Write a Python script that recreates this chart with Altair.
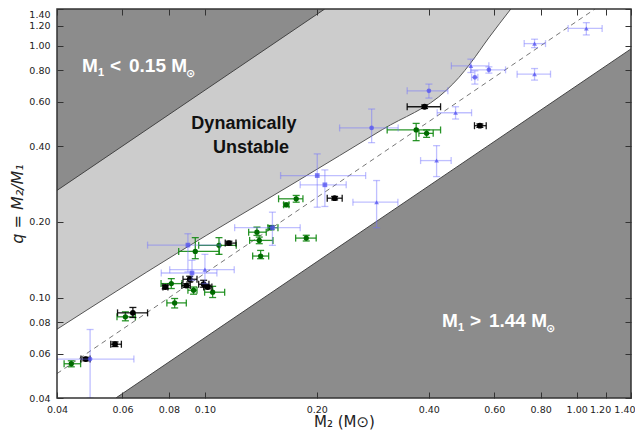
import altair as alt
import pandas as pd

# ----------------- values -----------------
tick_values = [0.04, 0.06, 0.08, 0.10, 0.20, 0.40, 0.60, 0.80, 1.00, 1.20, 1.40]

# boundary of the dynamically unstable region (light grey)
unstable_m2 = [0.04, 0.084, 0.177, 0.30, 0.4475, 0.482, 0.519, 0.58, 0.665]
unstable_q = [0.075, 0.15, 0.29, 0.465, 0.669, 0.748, 0.856, 1.075, 1.4]

# M1 < 0.15 Msun boundary (q = M2/0.15)
low_m1_m2 = [0.04, 0.21]
low_m1_q = [0.2667, 1.4]
# M1 > 1.44 Msun boundary (q = M2/1.44)
high_m1_m2 = [0.0576, 1.4]
high_m1_q = [0.04, 0.9722]
# dashed reference line (q = M2/0.8)
ref_m2 = [0.04, 1.12]
ref_q = [0.05, 1.4]

# black series
black_m2 = [0.0478, 0.0573, 0.0640, 0.0782, 0.0891, 0.0910, 0.0992, 0.1017, 0.1160, 0.2233, 0.3898, 0.549]
black_q = [0.0571, 0.0654, 0.0871, 0.1103, 0.1118, 0.1184, 0.1131, 0.1103, 0.1648, 0.2484, 0.5730, 0.4819]
black_m2_lo = [0.0464, 0.0558, 0.0582, 0.0771, 0.0867, 0.0873, 0.0962, 0.0992, 0.1134, 0.2133, 0.350, 0.531]
black_m2_hi = [0.0491, 0.0596, 0.0701, 0.0795, 0.0913, 0.0952, 0.1025, 0.1044, 0.1212, 0.2340, 0.4304, 0.571]
black_q_lo = [0.0562, 0.0640, 0.0835, 0.1085, 0.1100, 0.1155, 0.1101, 0.1085, 0.1620, 0.2445, 0.5640, 0.4745]
black_q_hi = [0.0580, 0.0668, 0.0915, 0.1121, 0.1136, 0.1217, 0.1173, 0.1121, 0.1676, 0.2524, 0.5820, 0.4895]

# green series
green_m2 = [0.0437, 0.0611, 0.0829, 0.0812, 0.0932, 0.1049, 0.0942, 0.1091, 0.1380, 0.1400, 0.1412, 0.1505, 0.1655, 0.1760, 0.1873, 0.3700, 0.3947]
green_q = [0.0547, 0.0840, 0.0954, 0.1138, 0.1071, 0.1052, 0.1527, 0.1614, 0.1821, 0.1689, 0.1464, 0.1897, 0.2339, 0.2470, 0.1725, 0.4634, 0.4493]
green_m2_lo = [0.0418, 0.0580, 0.0790, 0.0762, 0.0900, 0.0998, 0.0850, 0.0962, 0.1311, 0.1319, 0.1344, 0.1477, 0.1628, 0.1578, 0.1754, 0.3092, 0.3763]
green_m2_hi = [0.0463, 0.0650, 0.0891, 0.0867, 0.0952, 0.1130, 0.1093, 0.1214, 0.1462, 0.1524, 0.1484, 0.1572, 0.1683, 0.1835, 0.1992, 0.4304, 0.4112]
green_q_lo = [0.0532, 0.0810, 0.0911, 0.1088, 0.1033, 0.1002, 0.1429, 0.1487, 0.1768, 0.1639, 0.1429, 0.1860, 0.2300, 0.2395, 0.1680, 0.4203, 0.4332]
green_q_hi = [0.0562, 0.0879, 0.0993, 0.1191, 0.1103, 0.1110, 0.1732, 0.1732, 0.1907, 0.1741, 0.1541, 0.1935, 0.2378, 0.2547, 0.1770, 0.4921, 0.4634]

# blue series
blue_m2 = [0.0491, 0.0900, 0.0923, 0.1000, 0.1519, 0.2005, 0.2102, 0.2896, 0.2808, 0.4199, 0.4004, 0.4723, 0.5192, 0.5322, 0.5805, 0.7703, 0.7703, 1.0617]
blue_q = [0.0571, 0.1618, 0.1254, 0.1293, 0.1897, 0.3055, 0.2807, 0.2395, 0.4720, 0.3503, 0.6630, 0.5425, 0.8327, 0.7498, 0.8029, 1.0203, 0.7720, 1.1720]
blue_m2_lo = [0.0400, 0.0701, 0.0763, 0.0804, 0.1202, 0.1598, 0.1804, 0.2501, 0.2303, 0.3803, 0.3500, 0.4214, 0.4602, 0.5215, 0.5192, 0.7225, 0.6915, 0.9485]
blue_m2_hi = [0.0644, 0.1100, 0.1077, 0.1199, 0.1804, 0.2706, 0.2399, 0.3304, 0.3310, 0.4596, 0.4503, 0.5215, 0.5805, 0.5422, 0.6437, 0.8245, 0.8504, 1.1708]
blue_q_lo = [0.0400, 0.1266, 0.1173, 0.1138, 0.1614, 0.2288, 0.2303, 0.1897, 0.4127, 0.3027, 0.6202, 0.5122, 0.7833, 0.7048, 0.7791, 0.9838, 0.7310, 1.1046]
blue_q_hi = [0.0748, 0.1795, 0.1408, 0.1487, 0.2186, 0.3724, 0.3217, 0.2919, 0.5611, 0.4015, 0.7048, 0.5730, 0.8851, 0.7956, 0.8252, 1.0622, 0.8124, 1.2357]
blue_marker = ['circle', 'square', 'square', 'triangle-up', 'square', 'square', 'square', 'triangle-up', 'circle',
               'triangle-up', 'circle', 'triangle-up', 'triangle-up', 'circle', 'circle', 'triangle-up', 'triangle-up', 'triangle-up']

# ----------------- chart -----------------
xs = alt.Scale(type='log', domain=[0.04, 1.4], nice=False)
ys = alt.Scale(type='log', domain=[0.04, 1.4], nice=False)
one = pd.DataFrame({'k': [0]})


def X(field, axis=None, title=None):
    if title is None:
        return alt.X(field, type='quantitative', scale=xs, axis=axis)
    return alt.X(field, type='quantitative', scale=xs, axis=axis, title=title)


def Y(field, axis=None, title=None):
    if title is None:
        return alt.Y(field, type='quantitative', scale=ys, axis=axis)
    return alt.Y(field, type='quantitative', scale=ys, axis=axis, title=title)


main_x_axis = alt.Axis(values=tick_values, format='.2f', ticks=False, tickSize=0, domain=False, grid=False,
                       labelFont='DejaVu Sans', labelFontSize=9.5, labelColor='#222', labelPadding=6,
                       labelOverlap=False,
                       labelAlign={"expr": "datum.value > 1.3 ? 'right' : 'center'"},
                       labelOffset={"expr": "datum.value > 1.3 ? 4 : (datum.value > 1.1 ? -6 : 0)"},
                       titleFont='DejaVu Sans', titleFontSize=15, titleFontWeight='normal', titleColor='#222',
                       titlePadding=1)
main_y_axis = alt.Axis(values=tick_values, format='.2f', ticks=False, tickSize=0, domain=False, grid=False,
                       labelFont='DejaVu Sans', labelFontSize=9.5, labelColor='#222', labelPadding=7,
                       labelOverlap=False,
                       labelBaseline={"expr": "datum.value > 1.3 ? 'top' : 'middle'"},
                       titleFont='DejaVu Sans', titleFontSize=16, titleFontWeight='normal', titleFontStyle='italic',
                       titleColor='#222', titlePadding=3)


def tick_axis(orient):
    return alt.Axis(orient=orient, values=tick_values, labels=False, domain=False, grid=False, ticks=True,
                    tickSize=6, tickColor='#333', tickWidth=1, offset=-6, zindex=1, title=None)


unstable = pd.DataFrame({'m2': unstable_m2, 'q': unstable_q, 'top': [1.4] * len(unstable_m2)})
low_df = pd.DataFrame({'m2': low_m1_m2, 'q': low_m1_q, 'top': [1.4, 1.4]})
high_df = pd.DataFrame({'m2': high_m1_m2, 'q': high_m1_q, 'bot': [0.04, 0.04]})
ref_df = pd.DataFrame({'m2': ref_m2, 'q': ref_q})

light = alt.Chart(unstable).mark_area(color='#cccccc', orient='vertical', interpolate='monotone', clip=True).encode(
    x=X('m2', main_x_axis, 'M₂ (M⊙)'), y=Y('q', main_y_axis, 'q = M₂/M₁'), y2='top')
light_edge = alt.Chart(unstable).mark_line(color='#555', strokeWidth=1, interpolate='monotone', clip=True).encode(
    x=X('m2'), y=Y('q'))
dark_tl = alt.Chart(low_df).mark_area(color='#8c8c8c', orient='vertical', clip=True).encode(
    x=X('m2', tick_axis('bottom')), y=Y('q', tick_axis('left')), y2='top')
dark_tl_edge = alt.Chart(low_df).mark_line(color='#444', strokeWidth=1, clip=True).encode(x=X('m2'), y=Y('q'))
dark_br = alt.Chart(high_df).mark_area(color='#8c8c8c', orient='vertical', clip=True).encode(
    x=X('m2', tick_axis('top')), y=Y('q', tick_axis('right')), y2='bot')
dark_br_edge = alt.Chart(high_df).mark_line(color='#444', strokeWidth=1, clip=True).encode(x=X('m2'), y=Y('q'))
dashed = alt.Chart(ref_df).mark_line(color='#777', strokeWidth=1, strokeDash=[5, 4], clip=True).encode(
    x=X('m2'), y=Y('q'))


def series(m2, q, m2lo, m2hi, qlo, qhi, bar_color, bar_op, pt_color, pt_op, pt_size, marker=None):
    d = pd.DataFrame({'m2': m2, 'q': q, 'm2lo': m2lo, 'm2hi': m2hi, 'qlo': qlo, 'qhi': qhi})
    if marker is not None:
        d['marker'] = marker
    base = alt.Chart(d)
    hbar = base.mark_rule(color=bar_color, opacity=bar_op, strokeWidth=1.3, clip=True).encode(
        x=X('m2lo'), x2='m2hi', y=Y('q'))
    vbar = base.mark_rule(color=bar_color, opacity=bar_op, strokeWidth=1.3, clip=True).encode(
        x=X('m2'), y=Y('qlo'), y2='qhi')
    hcap = base.transform_fold(['m2lo', 'm2hi'], as_=['kk', 'vv']).mark_tick(
        orient='vertical', size=7, thickness=1.3, color=bar_color, opacity=bar_op, clip=True).encode(
        x=X('vv'), y=Y('q'))
    vcap = base.transform_fold(['qlo', 'qhi'], as_=['kk', 'vv']).mark_tick(
        orient='horizontal', size=7, thickness=1.3, color=bar_color, opacity=bar_op, clip=True).encode(
        x=X('m2'), y=Y('vv'))
    enc = dict(x=X('m2'), y=Y('q'))
    if marker is not None:
        enc['shape'] = alt.Shape('marker:N', scale=None)
    pts = base.mark_point(filled=True, color=pt_color, opacity=pt_op, size=pt_size, clip=True).encode(**enc)
    return [hbar, vbar, hcap, vcap, pts]


green = series(green_m2, green_q, green_m2_lo, green_m2_hi, green_q_lo, green_q_hi,
               '#138a13', 0.9, '#006a00', 1.0, 28)
black = series(black_m2, black_q, black_m2_lo, black_m2_hi, black_q_lo, black_q_hi,
               '#000000', 0.9, '#000000', 1.0, 34)
blue = series(blue_m2, blue_q, blue_m2_lo, blue_m2_hi, blue_q_lo, blue_q_hi,
              '#7070ff', 0.45, '#5050f0', 0.75, 22, blue_marker)


def label(text, m2, q, dx=0, dy=0, size=19, color='white', font='Liberation Sans', weight='bold', align='left'):
    return alt.Chart(one).mark_text(text=text, dx=dx, dy=dy, fontSize=size, color=color, font=font,
                                    fontWeight=weight, align=align, baseline='alphabetic').encode(
        x=alt.X(datum=m2, type='quantitative', scale=xs, axis=None),
        y=alt.Y(datum=q, type='quantitative', scale=ys, axis=None))


texts = [
    label('M', 0.0467, 0.788), label('1', 0.0467, 0.788, dx=16, dy=4, size=11),
    label('<', 0.0467, 0.788, dx=28), label('0.15 M', 0.0467, 0.788, dx=47),
    label('⊙', 0.0467, 0.788, dx=104, dy=5, size=11, font='DejaVu Sans'),
    label('M', 0.434, 0.0764), label('1', 0.434, 0.0764, dx=16, dy=4, size=11),
    label('>', 0.434, 0.0764, dx=28), label('1.44 M', 0.434, 0.0764, dx=47),
    label('⊙', 0.434, 0.0764, dx=104, dy=5, size=11, font='DejaVu Sans'),
    label('Dynamically', 0.1273, 0.469, size=18, color='#111', align='center'),
    label('Unstable', 0.1273, 0.377, dx=7, size=18, color='#111', align='center'),
]

frame = alt.Chart(one).mark_rect(fillOpacity=0, stroke='#333', strokeWidth=1.5).encode(
    x=alt.X(datum=0.04, type='quantitative', scale=xs, axis=None), x2=alt.X2(datum=1.4),
    y=alt.Y(datum=0.04, type='quantitative', scale=ys, axis=None), y2=alt.Y2(datum=1.4))

chart = alt.layer(
    light, light_edge, dark_tl, dark_tl_edge, dark_br, dark_br_edge, dashed,
    *green, *black, *blue, *texts, frame
).resolve_axis(x='independent', y='independent').properties(
    width=574, height=389,
    autosize=alt.AutoSizeParams(type='none'),
    padding={'left': 49, 'top': 1, 'right': 4, 'bottom': 35},
    background='white'
).configure_view(strokeWidth=0)

chart.save('out.html', embed_options={'renderer': 'svg', 'actions': False})
